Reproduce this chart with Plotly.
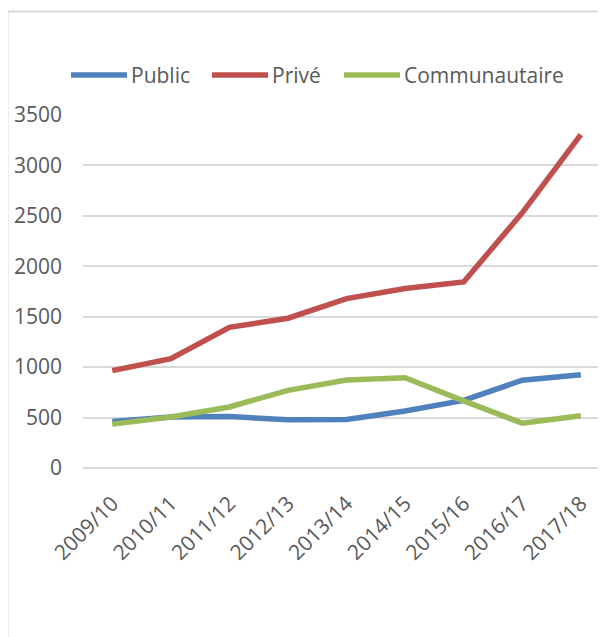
"""Effectifs par secteur — courbes Public / Privé / Communautaire."""

import plotly.graph_objects as go

YEARS = ["2009/10", "2010/11", "2011/12", "2012/13", "2013/14",
         "2014/15", "2015/16", "2016/17", "2017/18"]
PUBLIC = [460, 505, 510, 478, 482, 565, 670, 870, 925]
PRIVE = [965, 1085, 1395, 1485, 1680, 1780, 1845, 2530, 3305]
COMMUNAUTAIRE = [435, 505, 605, 770, 872, 895, 665, 445, 518]

SERIES = [
    ("Public", PUBLIC, "#4f81bd"),
    ("Privé", PRIVE, "#c0504d"),
    ("Communautaire", COMMUNAUTAIRE, "#9bbb59"),
]

# the page body adds an 8px margin, so everything is laid out 8px up/left
OFF = 8
W, H = 606 - OFF, 637 - OFF
PL, PR, PT, PB = 83 - OFF, 606 - OFF, 115 - OFF, 468 - OFF  # plot box
TEXT = "#595959"
GRID = "#d9d9d9"
FONT = "'Open Sans', sans-serif"


def px_x(x):
    # x given in reference-page pixels
    return (x - OFF - PL) / (PR - PL)


def px_y(y):
    return (PB - (y - OFF)) / (PB - PT)


fig = go.Figure()
for name, vals, color in SERIES:
    fig.add_trace(go.Scatter(
        x=YEARS, y=vals, name=name, mode="lines",
        line=dict(color=color, width=5.5),
        showlegend=False,
    ))

# legend drawn by hand (Excel-style long line keys)
shapes = [dict(
    type="rect", xref="paper", yref="paper",
    x0=px_x(7.5), x1=px_x(640), y0=px_y(700), y1=px_y(11.5),
    line=dict(color=GRID, width=2), fillcolor="rgba(0,0,0,0)", layer="below",
)]
annotations = []
key_starts = [71, 212, 344]
for (name, vals, color), x0 in zip(SERIES, key_starts):
    shapes.append(dict(
        type="line", xref="paper", yref="paper",
        x0=px_x(x0), x1=px_x(x0 + 56), y0=px_y(75), y1=px_y(75),
        line=dict(color=color, width=5.5),
    ))
    annotations.append(dict(
        text=name, xref="paper", yref="paper", x=px_x(x0 + 58), y=px_y(75),
        xanchor="left", yanchor="middle", showarrow=False,
        font=dict(size=21, color=TEXT, family=FONT),
    ))

fig.update_layout(
    width=W, height=H,
    margin=dict(l=PL, r=W - PR, t=PT, b=H - PB),
    paper_bgcolor="white", plot_bgcolor="white",
    font=dict(family=FONT, size=21, color=TEXT),
    shapes=shapes, annotations=annotations,
    xaxis=dict(
        type="category", range=[-0.5, 8.43],
        showgrid=False, zeroline=False, showline=False,
        tickangle=-45, ticks="", ticklabelstandoff=18,
        tickfont=dict(size=21, color=TEXT),
    ),
    yaxis=dict(
        range=[0, 3500], dtick=500, tick0=0,
        showgrid=True, gridcolor=GRID, gridwidth=1.5,
        zeroline=True, zerolinecolor=GRID, zerolinewidth=1.5,
        showline=False, ticks="", ticklabelstandoff=20,
        tickfont=dict(size=21, color=TEXT),
    ),
    showlegend=False,
)

fig.write_html("out.html")
